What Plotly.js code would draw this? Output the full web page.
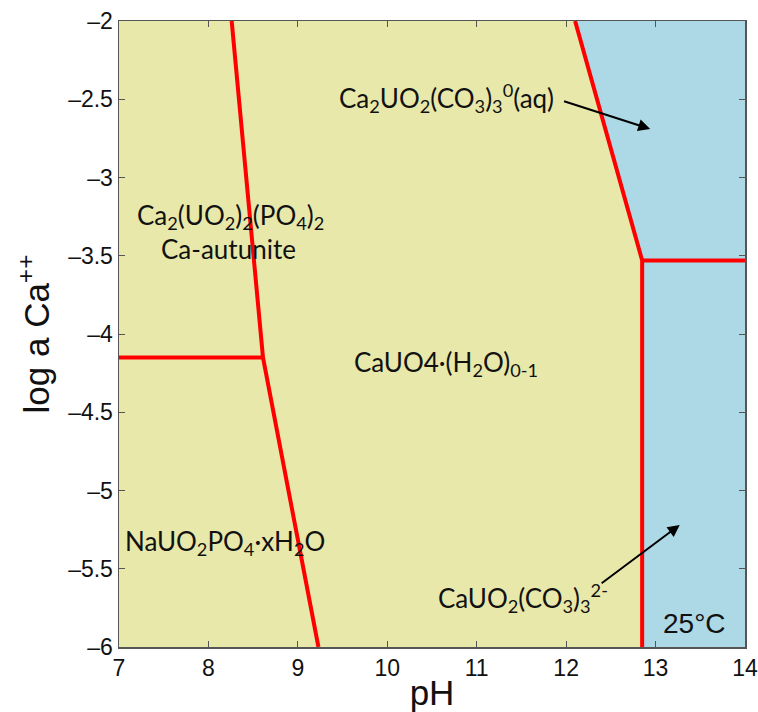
<!DOCTYPE html>
<html>
<head>
<meta charset="utf-8">
<script src="https://cdn.plot.ly/plotly-3.0.1.min.js"></script>
<style>html,body{margin:0;padding:0;background:#fff;}#chart{width:758px;height:712px;}</style>
</head>
<body>
<div id="chart"></div>
<script>
// Phase boundaries (pH, log a Ca++)
const autuniteBoundaryX = [8.26, 8.61, 9.23];
const autuniteBoundaryY = [-2, -4.15, -6];
const naBoundaryX = [7, 8.61];
const naBoundaryY = [-4.15, -4.15];
const carbonateBoundaryX = [12.10, 12.85, 12.85];
const carbonateBoundaryY = [-2, -3.53, -6];
const aqBoundaryX = [12.85, 14];
const aqBoundaryY = [-3.53, -3.53];
// Aqueous (blue) field outline
const aqueousFieldX = [12.10, 14, 14, 12.85, 12.85, 12.10];
const aqueousFieldY = [-2, -2, -6, -6, -3.53, -2];

const xTicks = [7, 8, 9, 10, 11, 12, 13, 14];
const yTicks = [-2, -2.5, -3, -3.5, -4, -4.5, -5, -5.5, -6];

const labelFont = {family: 'Lato, Open Sans, sans-serif', size: 26, color: '#111'};
const arial = 'Liberation Sans, Arial, sans-serif';
const red = '#FF0000';

const lineTrace = (x, y) => ({x: x, y: y, mode: 'lines', type: 'scatter',
  line: {color: red, width: 4}, hoverinfo: 'skip', showlegend: false, cliponaxis: false});

const data = [
  {x: aqueousFieldX, y: aqueousFieldY, mode: 'lines', type: 'scatter', fill: 'toself',
   fillcolor: '#ADD8E6', line: {width: 0, color: '#ADD8E6'}, hoverinfo: 'skip', showlegend: false},
  lineTrace(autuniteBoundaryX, autuniteBoundaryY),
  lineTrace(naBoundaryX, naBoundaryY),
  lineTrace(carbonateBoundaryX, carbonateBoundaryY),
  lineTrace(aqBoundaryX, aqBoundaryY)
];

const annotations = [
  {x: 8.25, y: -3.25, text: 'Ca<sub>2</sub>(UO<sub>2</sub>)<sub>2</sub>(PO<sub>4</sub>)<sub>2</sub>', showarrow: false, font: labelFont},
  {x: 8.22, y: -3.46, text: 'Ca-autunite', showarrow: false, font: labelFont},
  {x: 10.66, y: -4.19, text: 'CaUO4·(H<sub>2</sub>O)<sub>0-1</sub>', showarrow: false, font: labelFont},
  {x: 8.19, y: -5.33, text: 'NaUO<sub>2</sub>PO<sub>4</sub>·xH<sub>2</sub>O', showarrow: false, font: labelFont},
  {x: 10.66, y: -2.49, text: 'Ca<sub>2</sub>UO<sub>2</sub>(CO<sub>3</sub>)<sub>3</sub><sup>0</sup>(aq)', showarrow: false, font: labelFont},
  {x: 11.52, y: -5.69, text: 'CaUO<sub>2</sub>(CO<sub>3</sub>)<sub>3</sub><sup>2-</sup>', showarrow: false, font: labelFont},
  {x: 13.43, y: -5.85, text: '25°C', showarrow: false, font: {family: arial, size: 28, color: '#111'}},
  {x: 12.94, y: -2.69, ax: 11.96, ay: -2.51, axref: 'x', ayref: 'y', xref: 'x', yref: 'y', text: '',
   showarrow: true, arrowhead: 2, arrowsize: 1.2, arrowwidth: 2, arrowcolor: '#000'},
  {x: 13.27, y: -5.22, ax: 12.38, ay: -5.60, axref: 'x', ayref: 'y', xref: 'x', yref: 'y', text: '',
   showarrow: true, arrowhead: 2, arrowsize: 1.2, arrowwidth: 2, arrowcolor: '#000'}
];

const axisCommon = {
  showgrid: false, zeroline: false, showline: true, linecolor: '#555', linewidth: 1.5,
  mirror: 'ticks', ticks: 'inside', ticklen: 6, tickcolor: '#555', tickwidth: 1,
  tickfont: {family: arial, size: 23, color: '#111'}
};

const layout = {
  width: 758, height: 712,
  margin: {l: 119, r: 13, t: 21, b: 65},
  paper_bgcolor: '#fff', plot_bgcolor: '#E8E8AA',
  showlegend: false,
  xaxis: Object.assign({}, axisCommon, {
    range: [7, 14], tickvals: xTicks, ticktext: xTicks.map(String),
    title: {text: 'pH', font: {family: arial, size: 35, color: '#111'}, standoff: 0}
  }),
  yaxis: Object.assign({}, axisCommon, {
    range: [-6, -2], tickvals: yTicks, ticktext: yTicks.map(v => String(v).replace('-', '\u2013')),
    title: {text: 'log a Ca<sup>++</sup>', font: {family: arial, size: 35, color: '#111'}, standoff: 8}
  }),
  annotations: annotations
};

Plotly.newPlot('chart', data, layout, {displayModeBar: false, staticPlot: true});
</script>
</body>
</html>
